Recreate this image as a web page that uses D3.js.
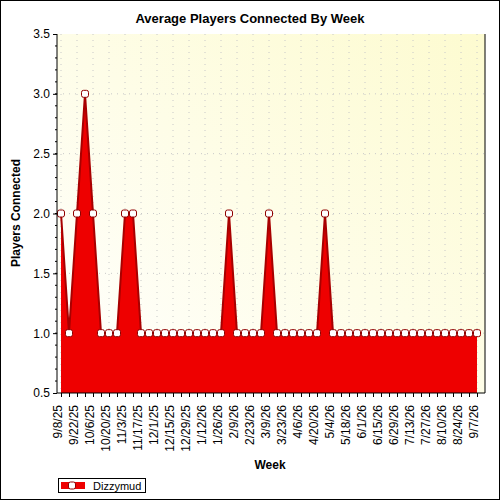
<!DOCTYPE html>
<html><head><meta charset="utf-8">
<script src="https://cdn.jsdelivr.net/npm/d3@7"></script>
<style>body{margin:0}svg{display:block;font-family:"Liberation Sans",Arial,sans-serif}</style>
</head><body>
<script>
const weeks = ["9/8/25","9/15/25","9/22/25","9/29/25","10/6/25","10/13/25","10/20/25","10/27/25","11/3/25","11/10/25","11/17/25","11/24/25","12/1/25","12/8/25","12/15/25","12/22/25","12/29/25","1/5/26","1/12/26","1/19/26","1/26/26","2/2/26","2/9/26","2/16/26","2/23/26","3/2/26","3/9/26","3/16/26","3/23/26","3/30/26","4/6/26","4/13/26","4/20/26","4/27/26","5/4/26","5/11/26","5/18/26","5/25/26","6/1/26","6/8/26","6/15/26","6/22/26","6/29/26","7/6/26","7/13/26","7/20/26","7/27/26","8/3/26","8/10/26","8/17/26","8/24/26","8/31/26","9/7/26"];
const players = [2,1,2,3,2,1,1,1,2,2,1,1,1,1,1,1,1,1,1,1,1,2,1,1,1,1,2,1,1,1,1,1,1,2,1,1,1,1,1,1,1,1,1,1,1,1,1,1,1,1,1,1,1];
const yTicks = [0.5,1.0,1.5,2.0,2.5,3.0,3.5];
const seriesName = "Dizzymud";

const svg = d3.select("body").append("svg").attr("width",500).attr("height",500);
svg.append("rect").attr("x",0.5).attr("y",0.5).attr("width",499).attr("height",499).attr("fill","#fff").attr("stroke","#000");
const L=57,R=485,T=34,B=393;
const x = d3.scaleLinear().domain([-0.5,53]).range([L,R]);
const y = d3.scaleLinear().domain([0.5,3.5]).range([B,T]);
const defs = svg.append("defs");
const g = defs.append("linearGradient").attr("id","bg").attr("x1","0").attr("y1","1").attr("x2","1").attr("y2","0");
g.append("stop").attr("offset","0").attr("stop-color","#ffffff");
g.append("stop").attr("offset","1").attr("stop-color","#fdfbd0");
svg.append("rect").attr("x",L).attr("y",T).attr("width",R-L).attr("height",B-T).attr("fill","url(#bg)");
// grid
svg.append("g").selectAll("line").data(yTicks.slice(1,-1)).join("line")
 .attr("x1",L).attr("x2",R).attr("y1",d=>y(d)).attr("y2",d=>y(d))
 .attr("stroke","#c8c8c8").attr("stroke-dasharray","1,5");
svg.append("g").selectAll("line").data(d3.range(0,53,2)).join("line")
 .attr("x1",d=>x(d)).attr("x2",d=>x(d)).attr("y1",T).attr("y2",B)
 .attr("stroke","#c8c8c8").attr("stroke-dasharray","1,5");
// area
const area = d3.area().x((d,i)=>x(i)).y0(B).y1(d=>y(d));
svg.append("path").datum(players).attr("d",area).attr("fill","#ee0000");
svg.append("path").datum(players).attr("d",d3.line().x((d,i)=>x(i)).y(d=>y(d))).attr("fill","none").attr("stroke","#a80000").attr("stroke-width",2);
svg.append("g").selectAll("rect").data(players).join("rect")
 .attr("x",(d,i)=>x(i)-3.5).attr("y",d=>y(d)-3.5).attr("width",7).attr("height",7).attr("rx",2)
 .attr("fill","#fff").attr("stroke","#900000").attr("stroke-width",1);
// right border of plot
svg.append("line").attr("x1",R).attr("x2",R).attr("y1",T).attr("y2",B).attr("stroke","#000");
// axes
const ya = d3.axisLeft(y).tickValues(yTicks).tickFormat(d3.format(".1f")).tickSize(4);
const yg = svg.append("g").attr("transform",`translate(${L},0)`).call(ya);
yg.select(".domain").remove();
svg.append("line").attr("x1",L).attr("x2",L).attr("y1",T).attr("y2",B).attr("stroke","#000");
svg.append("g").selectAll("line").data(d3.range(0.6,3.5,0.1)).join("line")
 .attr("x1",L-2).attr("x2",L).attr("y1",d=>y(d)).attr("y2",d=>y(d)).attr("stroke","#000");
yg.selectAll("text").attr("font-size",12).attr("fill","#000");
const xg = svg.append("g").attr("transform",`translate(0,${B})`)
 .call(d3.axisBottom(x).tickValues(d3.range(0,53)).tickSize(4).tickFormat(i=>i%2===0?weeks[i]:""));
xg.select(".domain").attr("d",`M${L},0H${R}`);
xg.selectAll("text").attr("font-size",12).attr("fill","#000").attr("transform","rotate(-90)")
 .attr("text-anchor","end").attr("x",-12).attr("y",-4).attr("dy","0.35em");
svg.append("text").attr("x",250).attr("y",23).attr("text-anchor","middle").attr("font-weight","bold").attr("font-size",13).text("Average Players Connected By Week");
svg.append("text").attr("x",270).attr("y",469).attr("text-anchor","middle").attr("font-weight","bold").attr("font-size",12).text("Week");
svg.append("text").attr("transform","translate(20,213) rotate(-90)").attr("text-anchor","middle").attr("font-weight","bold").attr("font-size",12).text("Players Connected");
// legend
svg.append("rect").attr("x",58.5).attr("y",478.5).attr("width",87).attr("height",14).attr("fill","#fff").attr("stroke","#000");
svg.append("rect").attr("x",61).attr("y",482).attr("width",24).attr("height",7).attr("fill","#ee0000");
svg.append("rect").attr("x",68.5).attr("y",482).attr("width",7).attr("height",7).attr("rx",2).attr("fill","#fff").attr("stroke","#900000");
svg.append("text").attr("x",93).attr("y",489.5).attr("font-size",11).text(seriesName);
</script>
</body></html>
